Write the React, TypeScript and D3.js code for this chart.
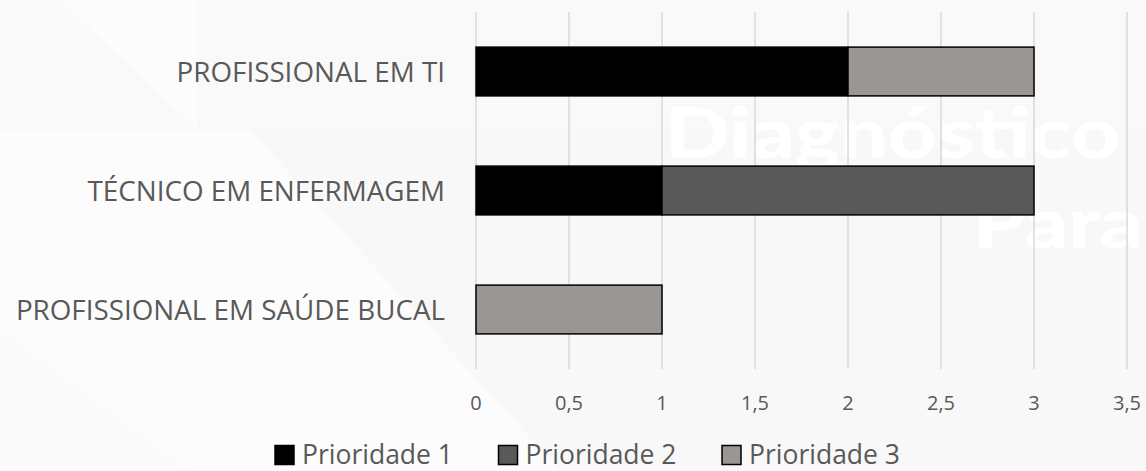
import React from "react";
import * as d3 from "d3";

const categories = ["PROFISSIONAL EM TI", "TÉCNICO EM ENFERMAGEM", "PROFISSIONAL EM SAÚDE BUCAL"];
const seriesNames = ["Prioridade 1", "Prioridade 2", "Prioridade 3"];
const prioridade1 = [2, 1, 0];
const prioridade2 = [0, 2, 0];
const prioridade3 = [1, 0, 1];
const xTicks = [0, 0.5, 1, 1.5, 2, 2.5, 3, 3.5];
const colors = ["#000000", "#595959", "#9a9694"];

const W = 1146;
const H = 471;

export default function App() {
  const rows = categories.map((c, i) => ({
    cat: c,
    "Prioridade 1": prioridade1[i],
    "Prioridade 2": prioridade2[i],
    "Prioridade 3": prioridade3[i],
  }));
  const stack = d3.stack<any>().keys(seriesNames)(rows);

  const x = d3.scaleLinear().domain([0, 3.5]).range([476, 1127]);
  const y = d3
    .scaleBand<string>()
    .domain(categories)
    .range([12, 369])
    .paddingInner(0.59)
    .paddingOuter(0.295);

  const font = "'Open Sans', sans-serif";
  const legendX = [275, 498.5, 722];

  return (
    <svg
      width={W}
      height={H}
      style={{ position: "absolute", left: 0, top: 0, background: "#fcfcfc" }}
    >
      {/* background decoration */}
      <rect x={0} y={0} width={W} height={H} fill="#fcfcfc" />
      <polygon points="197,0 1146,0 1146,130 197,130" fill="#f9f9f9" />
      <polygon points="0,0 60,0 197,130 0,130" fill="#f9f9f9" />
      <polygon points="250,130 1146,130 1146,471 560,471" fill="#f8f8f8" />
      <polygon points="0,330 0,471 190,471" fill="#fafafa" />
      <text
        x={665}
        y={158}
        fontFamily="Lato, sans-serif"
        fontWeight={900}
        fontSize={70}
        fill="#ffffff"
        textLength={455}
        lengthAdjust="spacingAndGlyphs"
      >
        Diagnóstico
      </text>
      <text
        x={973}
        y={248}
        fontFamily="Lato, sans-serif"
        fontWeight={900}
        fontSize={70}
        fill="#ffffff"
        textLength={170}
        lengthAdjust="spacingAndGlyphs"
      >
        Para
      </text>

      {/* gridlines */}
      {xTicks.map((t) => (
        <line
          key={t}
          x1={x(t)}
          x2={x(t)}
          y1={12}
          y2={369}
          stroke="#d9d9d9"
          strokeWidth={1.5}
        />
      ))}

      {/* bars */}
      {stack.map((s, si) =>
        s.map((d, i) => {
          const v = d[1] - d[0];
          if (v <= 0) return null;
          return (
            <rect
              key={si + "-" + i}
              x={x(d[0])}
              y={y(categories[i])!}
              width={x(d[1]) - x(d[0])}
              height={y.bandwidth()}
              fill={colors[si]}
              stroke="#000"
              strokeWidth={1.5}
            />
          );
        })
      )}

      {/* category labels */}
      {categories.map((c) => (
        <text
          key={c}
          x={445}
          y={y(c)! + y.bandwidth() / 2}
          dy="0.36em"
          textAnchor="end"
          fontFamily={font}
          fontSize={27.8}
          fill="#595959"
        >
          {c}
        </text>
      ))}

      {/* x tick labels */}
      {xTicks.map((t) => (
        <text
          key={"t" + t}
          x={x(t)}
          y={410}
          textAnchor="middle"
          fontFamily={font}
          fontSize={20}
          fill="#595959"
        >
          {String(t).replace(".", ",")}
        </text>
      ))}

      {/* legend */}
      {seriesNames.map((n, i) => (
        <g key={n}>
          <rect
            x={legendX[i]}
            y={445.5}
            width={19}
            height={19}
            fill={colors[i]}
            stroke="#000"
            strokeWidth={1.5}
          />
          <text
            x={legendX[i] + 27}
            y={463.5}
            fontFamily={font}
            fontSize={26.5}
            fill="#595959"
          >
            {n}
          </text>
        </g>
      ))}
    </svg>
  );
}
